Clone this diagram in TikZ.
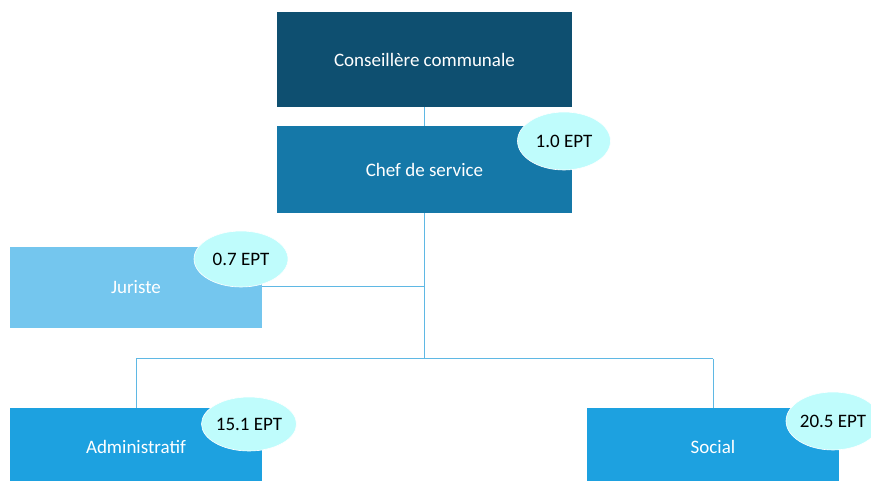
\documentclass[tikz,border=0pt]{standalone}
\usepackage{fontspec}
\setmainfont{Carlito}
\usetikzlibrary{shapes.geometric}
\definecolor{cdark}{HTML}{0E4F70}
\definecolor{cchef}{HTML}{1578A8}
\definecolor{cjur}{HTML}{74C6EE}
\definecolor{cdep}{HTML}{1DA1E0}
\definecolor{cell}{HTML}{BFFCFC}
\definecolor{cline}{HTML}{5FB8E4}
\tikzset{
  box/.style={rectangle, inner sep=0pt, text=white, font=\fontsize{19}{22}\selectfont},
  ept/.style={ellipse, fill=cell, draw=white, line width=0.6pt, inner sep=0pt, text=black, font=\fontsize{19}{22}\selectfont},
  conn/.style={draw=cline, line width=1pt}
}
\begin{document}
\begin{tikzpicture}[x=1pt,y=-1pt]
\useasboundingbox (0,0) rectangle (871,481);
\clip (0,0) rectangle (871,481);
\node[box, fill=cdark, minimum width=295pt, minimum height=95pt] (cons) at (424.5,59.5) {Conseillère communale};
\node[box, fill=cchef, minimum width=295pt, minimum height=87pt] (chef) at (424.5,169.5) {Chef de service};
\node[box, fill=cjur, minimum width=252pt, minimum height=81pt] (jur) at (136,287.5) {Juriste};
\node[box, fill=cdep, minimum width=252pt, minimum height=78pt] (adm) at (136,447) {Administratif};
\node[box, fill=cdep, minimum width=252pt, minimum height=78pt] (soc) at (713,447) {Social};
\coordinate (j) at (424.5,287);
\coordinate (h) at (424.5,359);
\coordinate (hl) at (136,359);
\coordinate (hr) at (713,359);
\draw[conn] (cons.south) -- (chef.north);
\draw[conn] (chef.south) -- (h);
\draw[conn] (jur.east |- j) -- (j);
\draw[conn] (hl) -- (hr);
\draw[conn] (hl) -- (adm.north);
\draw[conn] (hr) -- (soc.north);
\node[ept, minimum width=93pt, minimum height=58pt] (e1) at (564,141) {1.0 EPT};
\node[ept, minimum width=94pt, minimum height=56pt] (e2) at (241,259) {0.7 EPT};
\node[ept, minimum width=95pt, minimum height=54pt] (e3) at (249,424) {15.1 EPT};
\node[ept, minimum width=94pt, minimum height=58pt] (e4) at (833,421) {20.5 EPT};
\end{tikzpicture}
\end{document}
